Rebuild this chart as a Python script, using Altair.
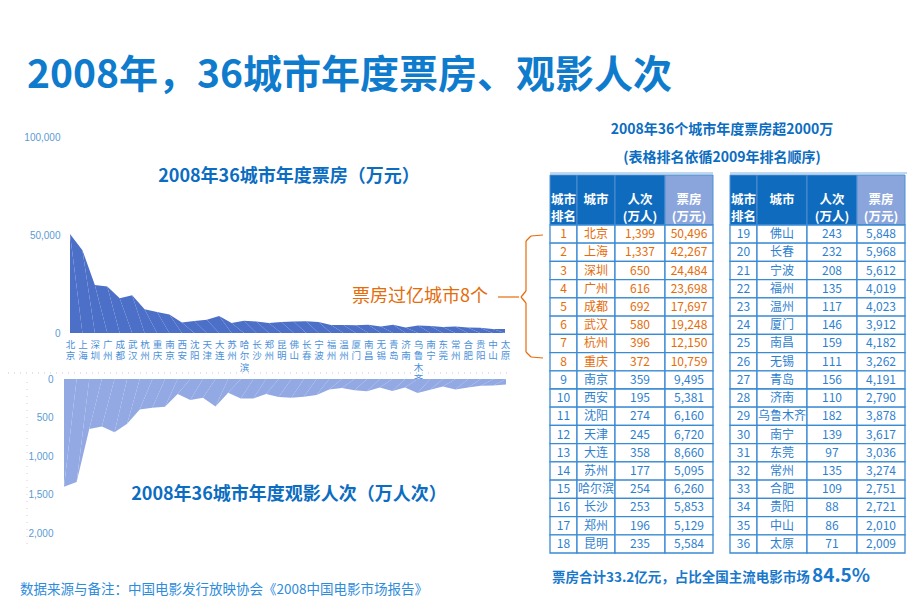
import altair as alt
import pandas as pd

# ---------------- data ----------------
cities = ["北京", "上海", "深圳", "广州", "成都", "武汉", "杭州", "重庆", "南京", "西安",
          "沈阳", "天津", "大连", "苏州", "哈尔滨", "长沙", "郑州", "昆明", "佛山", "长春",
          "宁波", "福州", "温州", "厦门", "南昌", "无锡", "青岛", "济南", "乌鲁木齐", "南宁",
          "东莞", "常州", "合肥", "贵阳", "中山", "太原"]
attendance = [1399, 1337, 650, 616, 692, 580, 396, 372, 359, 195,
              274, 245, 358, 177, 254, 253, 196, 235, 243, 232,
              208, 135, 117, 146, 159, 111, 156, 110, 182, 139,
              97, 135, 109, 88, 86, 71]
box_office = [50496, 42267, 24484, 23698, 17697, 19248, 12150, 10759, 9495, 5381,
              6160, 6720, 8660, 5095, 6260, 5853, 5129, 5584, 5848, 5968,
              5612, 4019, 4023, 3912, 4182, 3262, 4191, 2790, 3878, 3617,
              3036, 3274, 2751, 2721, 2010, 2009]
box_ticks = [0, 50000, 100000]
att_ticks = [0, 500, 1000, 1500, 2000]
headers = ["城市\n排名", "城市", "人次\n(万人)", "票房\n(万元)"]

# ---------------- layout / style ----------------
FONT = "Noto Sans CJK SC"
TITLE_BLUE = "#0F7BCD"
DARK_BLUE = "#0B6DC1"
AXIS_BLUE = "#5B9BD5"
TXT_BLUE = "#2F7FD0"
ORANGE = "#E46C0A"
BORDER = "#3A8AD4"
HEAD_DARK = "#0F6BBE"
HEAD_LIGHT = "#8AA5DB"
COL_EDGES = [[550, 577, 615, 665, 713], [730, 757, 807, 857, 905]]
PIX = alt.Scale(domain=[0, 920], range=[0, 920])
ROWS = alt.Scale(type="band", domain=list(range(1, 19)), range=[225, 553],
                 paddingInner=0, paddingOuter=0)

one = pd.DataFrame({"k": [0]})


def text(s, x, y, size, color, weight="normal", align="left", baseline="middle"):
    return alt.Chart(one).mark_text(
        text=s, font=FONT, fontSize=size, fontWeight=weight, color=color,
        align=align, baseline=baseline
    ).encode(x=alt.value(x), y=alt.value(y))


def seg(x1, y1, x2, y2, color, w=1.2, dash=None):
    kw = dict(color=color, strokeWidth=w)
    if dash:
        kw["strokeDash"] = dash
    return alt.Chart(one).mark_rule(**kw).encode(
        x=alt.value(x1), y=alt.value(y1), x2=alt.value(x2), y2=alt.value(y2))


ranks = list(range(1, len(cities) + 1))
df = pd.DataFrame({"city": cities, "box": box_office, "att": attendance, "rank": ranks})

# ---------------- area charts ----------------
top_area = alt.Chart(df).mark_area(color="#4C6FC8").encode(
    x=alt.X("city:O",
            scale=alt.Scale(type="point", domain=cities, range=[70, 505], padding=0),
            axis=alt.Axis(orient="bottom", offset=-281, domain=False, ticks=False,
                          grid=False, labelAngle=0, title=None,
                          labelExpr="split(datum.label, '')",
                          labelBaseline="top", labelLineHeight=11.5,
                          labelFontSize=9.5, labelFont=FONT, labelColor="#4A90D9",
                          labelPadding=6, labelOverlap=False)),
    y=alt.Y("box:Q",
            scale=alt.Scale(domain=[0, 100000], range=[333, 137]),
            axis=alt.Axis(orient="left", offset=-64, values=box_ticks,
                          labelExpr="format(datum.value, ',')",
                          domain=False, ticks=False, grid=False, title=None,
                          labelFontSize=10, labelFont="Liberation Sans",
                          labelColor=AXIS_BLUE, labelPadding=4)),
    order=alt.Order("rank:Q"),
)

bottom_area = alt.Chart(df).mark_area(color="#93A9E4").encode(
    x=alt.X("city:O",
            scale=alt.Scale(type="point", domain=cities, range=[64, 506], padding=0),
            axis=None),
    y=alt.Y("att:Q",
            scale=alt.Scale(domain=[0, 2000], range=[379, 533]),
            axis=alt.Axis(orient="left", offset=-57, values=att_ticks,
                          labelExpr="format(datum.value, ',')",
                          domain=False, ticks=False, grid=False, title=None,
                          labelFontSize=10, labelFont="Liberation Sans",
                          labelColor=AXIS_BLUE, labelPadding=4)),
    order=alt.Order("rank:Q"),
)

# ---------------- tables ----------------
cells = []
for i, c in enumerate(cities):
    t = 0 if i < 18 else 1
    vals = [str(i + 1), c, f"{attendance[i]:,}", f"{box_office[i]:,}"]
    for j in range(4):
        e = COL_EDGES[t]
        cells.append({"row": i % 18 + 1, "x0": e[j], "x1": e[j + 1],
                      "xc": (e[j] + e[j + 1]) / 2, "txt": vals[j],
                      "clr": ORANGE if i < 8 else TXT_BLUE})
cells = pd.DataFrame(cells)

head = []
for t in range(2):
    e = COL_EDGES[t]
    for j in range(4):
        head.append({"x0": e[j], "x1": e[j + 1], "xc": (e[j] + e[j + 1]) / 2,
                     "txt": headers[j], "fill": HEAD_LIGHT if j == 3 else HEAD_DARK})
head = pd.DataFrame(head)

body_rect = alt.Chart(cells).mark_rect(fill="white", stroke=BORDER, strokeWidth=1.3).encode(
    x=alt.X("x0:Q", scale=PIX, axis=None), x2="x1:Q",
    y=alt.Y("row:O", scale=ROWS, axis=None))
body_text = alt.Chart(cells).mark_text(font=FONT, fontSize=12).encode(
    x=alt.X("xc:Q", scale=PIX, axis=None),
    y=alt.Y("row:O", scale=ROWS, axis=None),
    text="txt:N", color=alt.Color("clr:N", scale=None))
head_rect = alt.Chart(head).mark_rect(stroke="#4F8FD2", strokeWidth=1).encode(
    x=alt.X("x0:Q", scale=PIX, axis=None), x2="x1:Q",
    y=alt.value(175), y2=alt.value(225),
    fill=alt.Fill("fill:N", scale=None))
head_text = alt.Chart(head).mark_text(font=FONT, fontSize=12.5, fontWeight="bold",
                                      color="white", lineBreak="\n", lineHeight=17).encode(
    x=alt.X("xc:Q", scale=PIX, axis=None), y=alt.value(200), text="txt:N")

# ---------------- annotations & texts ----------------
layers = [
    text("2008年，36城市年度票房、观影人次", 27, 76, 39, TITLE_BLUE, "bold"),
    seg(8, 373, 512, 373, "#c9c3d6", 1, [1, 5]),
    seg(27, 382, 27, 548, "#e6c8dc", 1, [1, 6]),
    top_area,
    bottom_area,
    text("2008年36城市年度票房（万元）", 289, 177, 18, DARK_BLUE, "bold", "center"),
    text("2008年36城市年度观影人次（万人次）", 289, 495, 18, DARK_BLUE, "bold", "center"),
    text("票房过亿城市8个", 352, 297, 18, ORANGE),
    seg(498, 297, 519, 297, ORANGE),
    seg(543, 235, 531, 236, ORANGE), seg(531, 236, 526, 241, ORANGE),
    seg(526, 241, 526, 291, ORANGE), seg(526, 291, 521, 297, ORANGE),
    seg(521, 297, 526, 303, ORANGE), seg(526, 303, 526, 352, ORANGE),
    seg(526, 352, 531, 357, ORANGE), seg(531, 357, 543, 358, ORANGE),
    text("2008年36个城市年度票房超2000万", 722, 130, 14, DARK_BLUE, "bold", "center"),
    text("(表格排名依循2009年排名顺序)", 722, 158, 14, DARK_BLUE, "bold", "center"),
    seg(550, 173, 713, 173, "#7FB2E3", 1), seg(730, 173, 907, 173, "#7FB2E3", 1),
    head_rect, head_text, body_rect, body_text,
    text("票房合计33.2亿元，占比全国主流电影市场", 552, 582, 13.5, "#1878CC", "bold",
         "left", "alphabetic"),
    text("84.5%", 812, 582, 19, "#1878CC", "bold", "left", "alphabetic"),
    text("数据来源与备注：中国电影发行放映协会《2008中国电影市场报告》", 20, 590, 13.5,
         "#2D8CDB"),
]

chart = alt.layer(*layers).resolve_scale(
    x="independent", y="independent"
).properties(
    width=920, height=614, padding=0, background="white",
    autosize=alt.AutoSizeParams(type="none"),
).configure_view(stroke=None)

chart.save("out.html", embed_options={"renderer": "svg", "actions": False})
